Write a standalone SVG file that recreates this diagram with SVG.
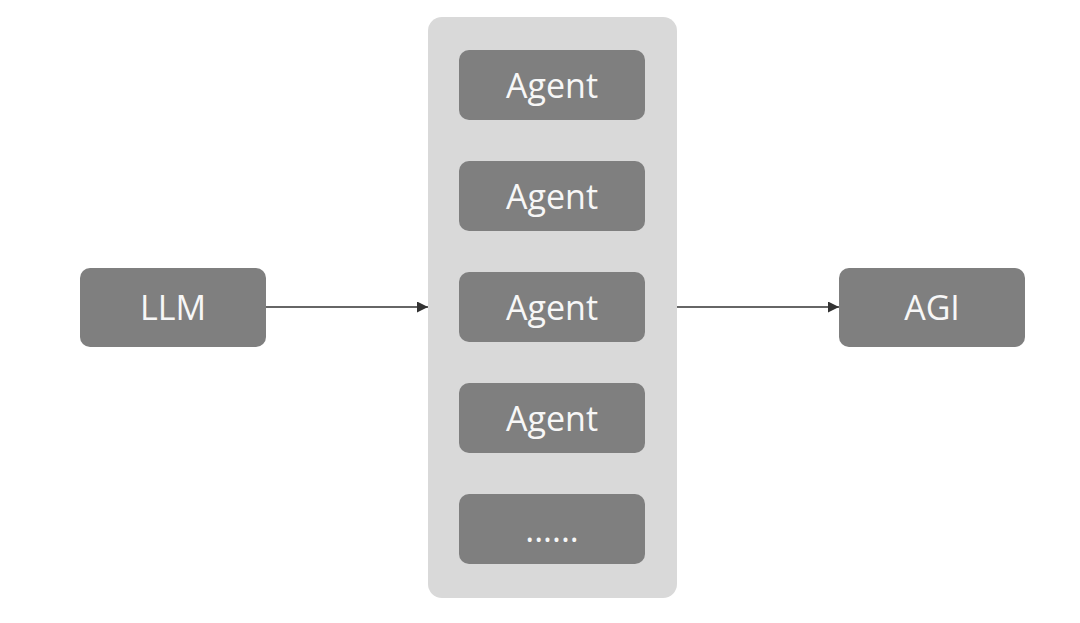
<svg xmlns="http://www.w3.org/2000/svg" width="1080" height="623" viewBox="0 0 1080 623">
<defs>
<style>
.box{fill:#7f7f7f;}
.lbl{fill:#f7f7f7;font-family:"Open Sans","Noto Sans",sans-serif;font-size:34px;text-anchor:middle;dominant-baseline:central;}
.edge{stroke:#333;stroke-width:1.5;fill:none;marker-end:url(#arr);}
</style>
<marker id="arr" viewBox="0 0 10 10" refX="10" refY="5" markerWidth="11" markerHeight="11" markerUnits="userSpaceOnUse" orient="auto">
<path d="M0,0 L10,5 L0,10 z" fill="#333"/>
</marker>
</defs>
<rect width="1080" height="623" fill="#ffffff"/>
<g id="container"><rect x="428" y="17" width="249" height="581" rx="14" fill="#d9d9d9"/></g>
<g id="llm"><rect class="box" x="80" y="268" width="186" height="79" rx="10"/><text class="lbl" x="173" y="307">LLM</text></g>
<g id="agi"><rect class="box" x="839" y="268" width="186" height="79" rx="10"/><text class="lbl" x="932" y="307">AGI</text></g>
<g id="agent1"><rect class="box" x="459" y="50" width="186" height="70" rx="10"/><text class="lbl" x="552" y="85">Agent</text></g>
<g id="agent2"><rect class="box" x="459" y="161" width="186" height="70" rx="10"/><text class="lbl" x="552" y="196">Agent</text></g>
<g id="agent3"><rect class="box" x="459" y="272" width="186" height="70" rx="10"/><text class="lbl" x="552" y="307">Agent</text></g>
<g id="agent4"><rect class="box" x="459" y="383" width="186" height="70" rx="10"/><text class="lbl" x="552" y="418">Agent</text></g>
<g id="more"><rect class="box" x="459" y="494" width="186" height="70" rx="10"/><text class="lbl" x="552" y="529">......</text></g>
<g id="connectors">
<line class="edge" x1="266" y1="307" x2="428" y2="307"/>
<line class="edge" x1="677" y1="307" x2="839" y2="307"/>
</g>
</svg>
